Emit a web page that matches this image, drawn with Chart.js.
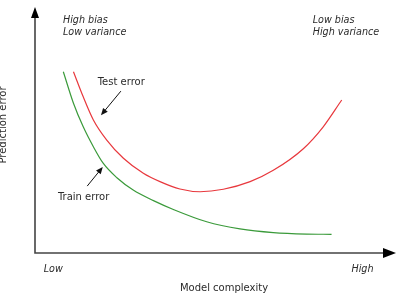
<!DOCTYPE html>
<html>
<head>
    <title>Bias-variance tradeoff</title>
    <meta charset="utf-8" />
    <script src="https://cdn.jsdelivr.net/npm/chart.js"></script>
    <style>
        html, body { margin: 0; padding: 0; background: #fff; overflow: hidden; }
        .chart-container { width: 400px; height: 294px; }
    </style>
</head>
<body>
    <div class="chart-container">
        <canvas id="tradeoffChart" width="400" height="294"></canvas>
    </div>

    <script>
        // data (model complexity 0-100, prediction error 0-100)
        const trainX = [8.1, 10.9, 13.6, 16.4, 19.1, 22.9, 27.4, 33.0, 38.5, 47.7, 56.9, 66.1, 75.3, 82.2];
        const trainY = [73.7, 60.9, 51.3, 43.2, 36.5, 30.6, 25.6, 21.3, 17.7, 12.7, 9.8, 8.3, 7.7, 7.6];
        const testX = [10.9, 13.6, 16.4, 20.1, 24.7, 30.2, 34.8, 40.3, 45.9, 52.3, 59.7, 66.1, 74.4, 79.9, 85.0];
        const testY = [73.7, 63.5, 54.1, 45.9, 38.5, 32.4, 29.0, 26.0, 24.9, 25.9, 29.0, 33.6, 42.4, 51.3, 62.2];
        const seriesNames = ['Train error', 'Test error'];
        const xTickLabels = ['Low', 'High'];
        const xTitle = 'Model complexity';
        const yTitle = 'Prediction error';
        const cornerNotes = [['High bias', 'Low variance'], ['Low bias', 'High variance']];

        const toPoints = (xs, ys) => xs.map((x, i) => ({ x: x, y: ys[i] }));

        const textColor = '#2b2b2b';
        const font = 'DejaVu Sans, sans-serif';

        // 축, 화살표, 글자
        const decorations = {
            id: 'decorations',
            afterDraw(chart) {
                const c = chart.ctx;
                const a = chart.chartArea;
                const xs = chart.scales.x;
                const ys = chart.scales.y;
                const ox = a.left + 1, oy = a.bottom;

                c.save();
                // axes
                c.strokeStyle = '#444';
                c.lineWidth = 1.6;
                c.beginPath();
                c.moveTo(ox, a.top + 10);
                c.lineTo(ox, oy);
                c.lineTo(a.right - 12, oy);
                c.stroke();
                c.fillStyle = '#000';
                c.beginPath();
                c.moveTo(ox, a.top);
                c.lineTo(ox - 4, a.top + 11);
                c.lineTo(ox + 4, a.top + 11);
                c.closePath();
                c.fill();
                c.beginPath();
                c.moveTo(a.right, oy);
                c.lineTo(a.right - 13, oy - 5);
                c.lineTo(a.right - 13, oy + 5);
                c.closePath();
                c.fill();

                // axis texts
                c.fillStyle = textColor;
                c.textBaseline = 'middle';
                c.font = '10px ' + font;
                c.textAlign = 'center';
                c.fillText(xTitle, (a.left + a.right) / 2 + 9, 288);
                c.save();
                c.translate(3, 125);
                c.rotate(-Math.PI / 2);
                c.fillText(yTitle, 0, 0);
                c.restore();

                c.font = 'italic 9.6px ' + font;
                c.textAlign = 'left';
                c.fillText(xTickLabels[0], xs.getPixelForValue(2.7), 269);
                c.fillText(xTickLabels[1], xs.getPixelForValue(87.7), 269);
                c.fillText(cornerNotes[0][0], xs.getPixelForValue(8), 20);
                c.fillText(cornerNotes[0][1], xs.getPixelForValue(8), 32);
                c.fillText(cornerNotes[1][0], xs.getPixelForValue(77), 20);
                c.fillText(cornerNotes[1][1], xs.getPixelForValue(77), 32);

                // series labels with arrows
                c.font = '10px ' + font;
                c.fillText(seriesNames[1], xs.getPixelForValue(17.6), ys.getPixelForValue(69.2));
                c.fillText(seriesNames[0], xs.getPixelForValue(6.6), ys.getPixelForValue(22.6));
                arrow(c, xs.getPixelForValue(24.0), ys.getPixelForValue(65.8), xs.getPixelForValue(18.5), ys.getPixelForValue(56.0));
                arrow(c, xs.getPixelForValue(14.7), ys.getPixelForValue(27.2), xs.getPixelForValue(19.0), ys.getPixelForValue(35.0));
                c.restore();
            }
        };

        function arrow(c, x1, y1, x2, y2) {
            const ang = Math.atan2(y2 - y1, x2 - x1);
            c.strokeStyle = '#111';
            c.fillStyle = '#111';
            c.lineWidth = 1;
            c.beginPath();
            c.moveTo(x1, y1);
            c.lineTo(x2 - 5 * Math.cos(ang), y2 - 5 * Math.sin(ang));
            c.stroke();
            c.beginPath();
            c.moveTo(x2, y2);
            c.lineTo(x2 - 7 * Math.cos(ang) + 3 * Math.sin(ang), y2 - 7 * Math.sin(ang) - 3 * Math.cos(ang));
            c.lineTo(x2 - 7 * Math.cos(ang) - 3 * Math.sin(ang), y2 - 7 * Math.sin(ang) + 3 * Math.cos(ang));
            c.closePath();
            c.fill();
        }

        const ctx = document.getElementById('tradeoffChart').getContext('2d');
        const tradeoffChart = new Chart(ctx, {
            type: 'line',
            data: {
                datasets: [{
                    label: seriesNames[0],
                    data: toPoints(trainX, trainY),
                    borderColor: '#3a9a3a',
                    borderWidth: 1.2,
                    pointRadius: 0,
                    cubicInterpolationMode: 'monotone'
                }, {
                    label: seriesNames[1],
                    data: toPoints(testX, testY),
                    borderColor: '#e8383d',
                    borderWidth: 1.2,
                    pointRadius: 0,
                    cubicInterpolationMode: 'monotone'
                }]
            },
            options: {
                responsive: false,
                animation: false,
                layout: { padding: { left: 34, right: 4, top: 7, bottom: 41 } },
                plugins: { legend: { display: false }, tooltip: { enabled: false } },
                scales: {
                    x: { type: 'linear', min: 0, max: 100, display: false },
                    y: { min: 0, max: 100, display: false }
                }
            },
            plugins: [decorations]
        });
    </script>
</body>
</html>
